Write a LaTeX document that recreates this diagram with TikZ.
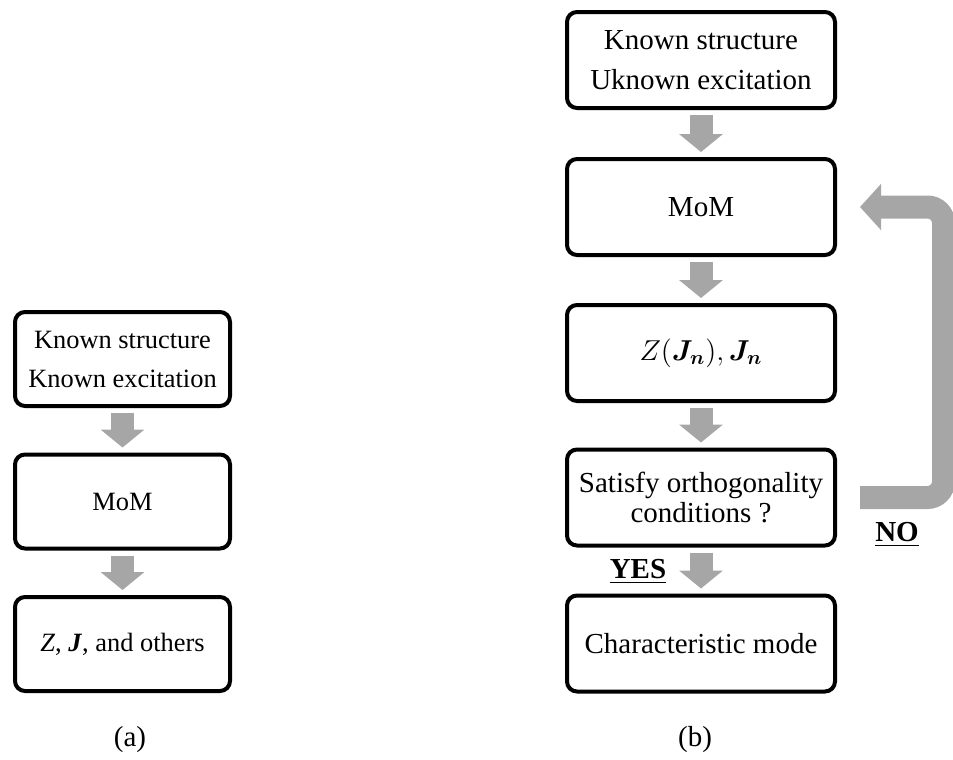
\documentclass[tikz,border=0pt]{standalone}
\usepackage{fontspec}
\setmainfont{Liberation Serif}
\usepackage{amsmath, bm}
\usepackage{tikz}
\usetikzlibrary{arrows.meta}
\definecolor{FlowGray}{HTML}{A6A6A6}

\begin{document}
\begin{tikzpicture}[x=0.5pt, y=-0.5pt,
  blockA/.style={draw, line width=2pt, rounded corners=5pt, inner sep=0pt, align=center,
    minimum width=107.5pt, minimum height=47pt, font=\fontsize{13.2}{19.5}\selectfont},
  blockB/.style={blockA, minimum width=134pt, minimum height=48pt, font=\fontsize{14.5}{20}\selectfont},
  flow/.style={FlowGray, line width=11.5pt, shorten <=2.5pt, shorten >=2.5pt,
    -{Triangle[width=21.5pt, length=9pt]}},
  backflow/.style={FlowGray, line width=11.5pt, rounded corners=8pt,
    -{Triangle[width=22.5pt, length=10.5pt]}},
  tag/.style={inner sep=0pt, font=\bfseries\fontsize{14.5}{16}\selectfont},
  caption/.style={inner sep=0pt, font=\fontsize{14.5}{16}\selectfont}]
  \useasboundingbox (0,0) rectangle (953,760);
  % (a) direct problem
  \node[blockA] (a1) at (122.5,359) {Known structure\\Known excitation};
  \node[blockA] (a2) at (122.5,501.5) {MoM};
  \node[blockA] (a3) at (122.5,644) {\textit{Z}, \textbf{\textit{J}}, and others};
  \draw[flow] (a1) -- (a2);
  \draw[flow] (a2) -- (a3);
  \node[caption] (capa) at (130,740) {(a)};
  % (b) characteristic modes
  \node[blockB] (b1) at (701,60) {Known structure\\Uknown excitation};
  \node[blockB] (b2) at (701,207) {MoM};
  \node[blockB] (b3) at (701,353) {$Z(\bm{J}_{\bm{n}}), \bm{J}_{\bm{n}}$};
  \node[blockB, font=\fontsize{14.5}{15}\selectfont] (b4) at (701,497.5) {Satisfy orthogonality\\conditions ?};
  \node[blockB] (b5) at (701,643.5) {Characteristic mode};
  \draw[flow] (b1) -- (b2);
  \draw[flow] (b2) -- (b3);
  \draw[flow] (b3) -- (b4);
  \draw[flow] (b4) -- (b5);
  % loop back
  \draw[backflow] ([xshift=11.5pt]b4.east) -- ++(41.75pt,0) |- ([xshift=11.5pt]b2.east);
  \node[tag] (no) at (897,535) {\underline{NO}};
  \node[tag] (yes) at (638,571.5) {\underline{YES}};
  \node[caption] (capb) at (695,740) {(b)};
\end{tikzpicture}
\end{document}
